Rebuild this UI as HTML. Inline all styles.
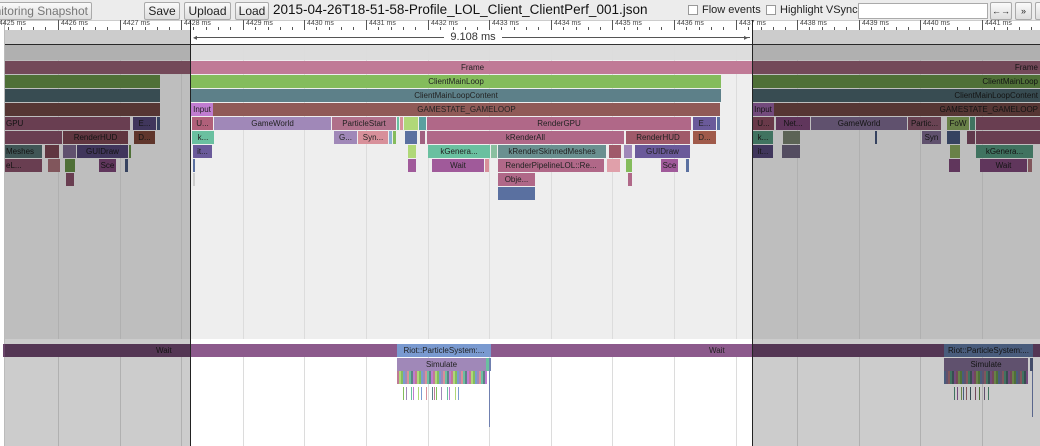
<!DOCTYPE html>
<html><head><meta charset="utf-8">
<style>
*{margin:0;padding:0;box-sizing:border-box}
body{width:1040px;height:446px;overflow:hidden;background:#fff;font-family:"Liberation Sans",sans-serif;position:relative}
.a{position:absolute}
.b{position:absolute;height:13px;font-size:8px;color:#222;text-align:center;line-height:13px;overflow:hidden;white-space:nowrap}
.btn{position:absolute;top:2px;height:18px;border:1px solid #aaa;border-radius:2px;background:linear-gradient(#fafafa,#ddd);font-size:12px;line-height:16px;text-align:center;color:#222;overflow:hidden;white-space:nowrap}
.tk{position:absolute;top:20px;height:10px;border-left:1px solid #555;font-size:7px;color:#444;padding-left:2px;line-height:8px}
.g{position:absolute;width:1px;background:#dcdcdc}
.d{filter:brightness(.75)}
</style></head><body>
<div class="a" style="left:0;top:0;width:1040px;height:21px;background:#ececec;border-bottom:1px solid #ccc"></div>
<div class="btn" style="left:-2px;width:94px;color:#777;direction:rtl;text-align:right;padding-right:3px">Monitoring Snapshot</div>
<div class="btn" style="left:144px;width:36px">Save</div>
<div class="btn" style="left:184px;width:47px">Upload</div>
<div class="btn" style="left:235px;width:34px">Load</div>
<div class="a" style="left:273px;top:2px;font-size:13.5px;color:#111">2015-04-26T18-51-58-Profile_LOL_Client_ClientPerf_001.json</div>
<div class="a" style="left:688px;top:5px;width:10px;height:10px;border:1px solid #999;background:#fff"></div>
<div class="a" style="left:702px;top:4px;font-size:11px;color:#222">Flow events</div>
<div class="a" style="left:766px;top:5px;width:10px;height:10px;border:1px solid #999;background:#fff"></div>
<div class="a" style="left:780px;top:4px;font-size:11px;color:#222">Highlight VSync</div>
<div class="a" style="left:858px;top:3px;width:130px;height:16px;border:1px solid #aaa;background:#fff"></div>
<div class="btn" style="left:990px;width:22px;font-size:9px">←→</div>
<div class="btn" style="left:1015px;width:17px;font-size:9px">»</div>
<div class="btn" style="left:1035px;width:10px"></div>
<div class="a" style="left:0;top:21px;width:1040px;height:9px;background:#fff"></div>
<div class="a" style="left:5px;top:30px;width:1035px;height:15px;background:#fff;border-bottom:1px solid #333"></div>
<div class="a" style="left:5px;top:45px;width:1035px;height:15px;background:#ddd"></div>
<div class="a" style="left:5px;top:60px;width:1035px;height:279px;background:#eee"></div>
<div class="a" style="left:0;top:339px;width:1040px;height:5px;background:#fff"></div>
<div class="a" style="left:4px;top:20px;width:1px;height:426px;background:#bbb"></div>
<div id="c"></div>
<div class="a" style="left:196px;top:37px;width:554px;height:1px;background:#555"></div>
<div class="a" style="left:193px;top:34px;font-size:8px;line-height:7px;color:#555">◂</div>
<div class="a" style="left:744px;top:34px;font-size:8px;line-height:7px;color:#555">▸</div>
<div class="a" style="left:444px;top:31px;width:58px;background:#fff;font-size:11px;text-align:center;color:#333">9.108 ms</div>
<div class="a" style="left:5px;top:30px;width:186px;height:416px;background:rgba(0,0,0,0.2)"></div>
<div class="a" style="left:752px;top:30px;width:288px;height:416px;background:rgba(0,0,0,0.2)"></div>
<div class="a" style="left:190px;top:20px;width:1px;height:426px;background:#222"></div>
<div class="a" style="left:752px;top:20px;width:1px;height:426px;background:#222"></div>
<script>
var c=document.getElementById('c'),h='';
for(var i=-1;i<16;i++){var x=Math.round(58+i*61.6);
 if(x>5){h+='<div class="g" style="left:'+x+'px;top:45px;height:294px"></div><div class="g" style="left:'+x+'px;top:344px;height:102px"></div>';}
 if(x>-10){h+='<div class="tk" style="left:'+x+'px">'+(4426+i)+' ms</div>';}
 for(var k=1;k<5;k++){var xx=Math.round(x+k*12.3);if(xx>5)h+='<div class="a" style="left:'+xx+'px;top:27px;width:1px;height:3px;background:#555"></div>';}
}
function b(y,x1,x2,col,t){var d=(x1<190||x1>=752)?' d':'';h+='<div class="b'+d+'" style="top:'+y+'px;left:'+x1+'px;width:'+(x2-x1)+'px;background:'+col+'">'+(t||'')+'</div>';}
var P='#c07a96',G='#84bc5c',T='#5d8089',BR='#905a57',PU='#c07cd0',RG='#b06888',LV='#a088b8',TE='#6ac0a0',DP='#6a5a9a',BL='#5a70a0',LG='#b0d878',MA='#a05a9a',RH='#a05a6a',DB='#a05a4a',SK='#6a9090',PK='#d8909a';
function R(t){return '<span style="position:absolute;right:2px">'+t+'</span>';}
function L(x,t){return '<span style="position:absolute;left:'+x+'px">'+t+'</span>';}
b(61,5,191,P);b(61,191,752,P,L(270,'Frame'));b(61,752,1040,P,R('Frame'));
b(75,5,160,G);b(75,191,721,G,'ClientMainLoop');b(75,752,1040,G,R('ClientMainLoop'));
b(89,5,160,T);b(89,191,721,T,'ClientMainLoopContent');b(89,752,1040,T,R('ClientMainLoopContent'));
b(103,5,160,BR);b(103,191,213,PU,'Input');b(103,213,720,BR,'GAMESTATE_GAMELOOP');b(103,752,774,PU,'Input');b(103,774,1040,BR,R('GAMESTATE_GAMELOOP'));
var y=117;
b(y,5,130,RG,L(1,'GPU'));b(y,133,156,DP,'E...');b(y,157,160,BL);
b(y,192,213,'#b0607a','U...');b(y,214,331,LV,'GameWorld');b(y,332,396,'#b0708a','ParticleStart');b(y,397,399,TE);b(y,400,403,PK);b(y,404,418,LG);b(y,419,426,'#5aa0a0');b(y,427,691,RG,'RenderGPU');b(y,693,716,DP,'E...');b(y,717,720,BL);
b(y,753,774,'#b0607a','U...');b(y,776,810,MA,'Net...');b(y,811,907,LV,'GameWorld');b(y,908,941,'#b0708a','Partic...');b(y,947,969,LG,'FoW');b(y,970,975,TE);b(y,976,1040,RG);
y=131;
b(y,5,62,RG);b(y,63,128,RH,'RenderHUD');b(y,134,155,DB,'D...');
b(y,192,214,TE,'k...');b(y,334,357,LV,'G...');b(y,358,388,PK,'Syn...');b(y,389,392,'#8ab0d0');b(y,393,396,G);b(y,405,417,BL);b(y,420,425,'#a06080');b(y,427,624,RG,'kRenderAll');b(y,626,690,RH,'RenderHUD');b(y,693,716,DB,'D...');
b(y,753,773,TE,'k...');b(y,783,800,'#9aa890');b(y,875,877,BL);b(y,922,941,LV,'Syn');b(y,947,960,BL);b(y,967,975,'#a06080');b(y,976,1040,RG);
y=145;
b(y,5,42,SK,L(1,'Meshes'));b(y,45,59,RH);b(y,63,76,LV);b(y,77,128,DP,'GUIDraw');b(y,129,131,G);
b(y,193,212,DP,'it...');b(y,408,416,LG);b(y,428,490,TE,'kGenera...');b(y,491,497,'#8ac0a0');b(y,498,606,SK,'kRenderSkinnedMeshes');b(y,609,621,RH);b(y,624,632,LV);b(y,635,690,DP,'GUIDraw');
b(y,753,773,DP,'it...');b(y,782,800,'#8a80a0');b(y,950,960,LG);b(y,976,1033,TE,'kGenera...');
y=159;
b(y,5,42,RG,L(1,'eL...'));b(y,48,60,PK);b(y,65,75,G);b(y,99,116,MA,'Sce');b(y,125,128,BL);
b(y,193,195,BL);b(y,408,416,MA);b(y,432,484,MA,'Wait');b(y,485,489,PK);b(y,498,604,RG,'RenderPipelineLOL::Re...');b(y,607,620,'#e0a0aa');b(y,626,632,G);b(y,661,678,MA,'Sce');b(y,686,689,BL);
b(y,949,960,MA);b(y,980,1027,MA,'Wait');b(y,1028,1032,PK);
b(173,66,74,RG);b(173,498,535,RG,'Obje...');b(173,628,632,RG);b(173,193,195,'#ccc');
b(187,498,535,BL);
b(344,3,191,'#8c5a8c',L(153,'Wait'));b(344,191,752,'#8c5a8c',L(518,'Wait'));b(344,752,1040,'#8c5a8c');
b(344,397,491,'#7a9ad0','Riot::ParticleSystem:...');b(344,944,1033,'#7a9ad0','Riot::ParticleSystem:...');
b(358,397,486,LV,'Simulate');b(358,486,489,TE);b(358,489,491,'#7080b0');b(358,944,1028,LV,'Simulate');b(358,1030,1033,'#7080b0');
var cols=['#84bc5c','#a088b8','#6ac0a0','#c07cd0','#b0d878','#7a9ad0','#d8909a','#5d8089','#c07a96'];
function stripes(x1,x2,seed){for(var x=x1;x<x2;x+=2){b(371,x,x+2,cols[(x*7+seed)%9]);}}
stripes(397,486,1);stripes(944,1028,3);
var s1=[403,406,411,413,418,421,426,432,434,436,441,447,449,455,458];s1.forEach(function(x,i){b(387,x,x+1,cols[i%9]);});
var s2=[954,957,961,963,966,970,975,979,984,988];s2.forEach(function(x,i){b(387,x,x+1,cols[(i+2)%9]);});
h+='<div class="a" style="left:489px;top:371px;width:1px;height:56px;background:#7080b0"></div>';
h+='<div class="a" style="left:1032px;top:371px;width:1px;height:46px;background:#7080b0"></div>';
c.innerHTML=h;
</script>
</body></html>
